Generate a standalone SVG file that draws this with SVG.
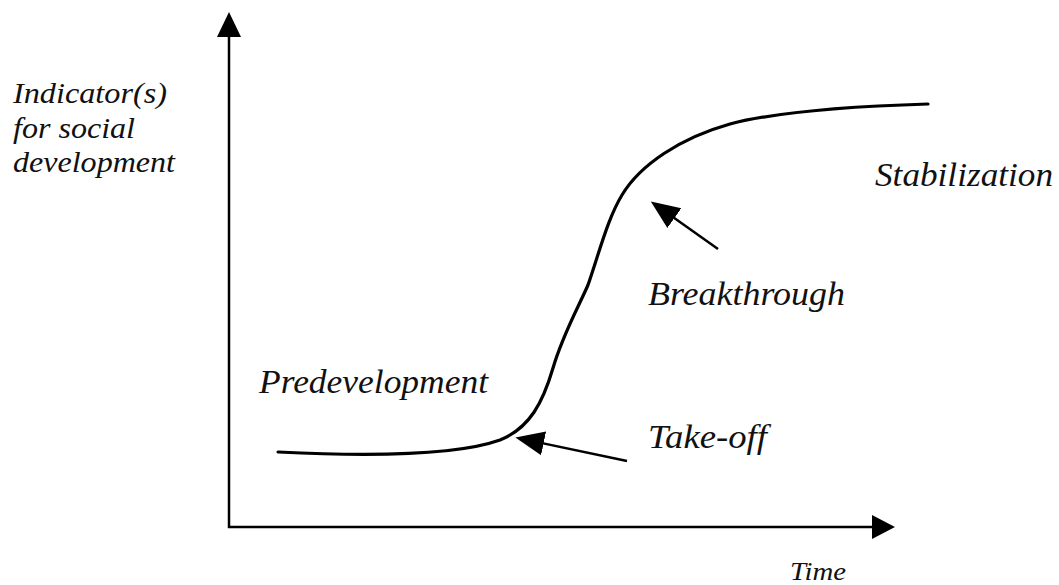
<svg xmlns="http://www.w3.org/2000/svg" width="1059" height="585" viewBox="0 0 1059 585">
  <style>
    .line { stroke: #000; stroke-width: 2.5; fill: none; }
    .curve { stroke: #000; stroke-width: 3.2; fill: none; stroke-linecap: round; }
  </style>
  <defs>
    <marker id="head" markerUnits="userSpaceOnUse" markerWidth="30" markerHeight="30" viewBox="0 -12 26 24" refX="14" refY="0" orient="auto">
      <path d="M0,-10.5 L25,0 L0,10.5 Z" fill="#000"/>
    </marker>
  </defs>
  <rect width="1059" height="585" fill="#fff"/>
  <g id="axes">
    <line class="line" x1="229" y1="528" x2="229" y2="36"/>
    <polygon points="217,37 229,12 241,37" fill="#000"/>
    <line class="line" x1="228" y1="527" x2="874" y2="527"/>
    <polygon points="872,515 895,527 872,539" fill="#000"/>
  </g>
  <g id="curve">
    <path class="curve" d="M278,452 C340,455 450,458 500,440 C530,428 543,402 553,368 C563,334 578,308 588,285 C600,250 608,218 622,195 C640,165 680,138 730,124 C780,111 860,106 928,104"/>
  </g>
  <g id="connectors">
    <line class="line" x1="718" y1="249" x2="661.2" y2="208.8" marker-end="url(#head)"/>
    <line class="line" x1="627" y1="461" x2="527.8" y2="440.1" marker-end="url(#head)"/>
  </g>
  <g font-family="Liberation Serif, Times New Roman, serif" font-style="italic" fill="#111">
    <g id="y-label" font-size="29">
      <text x="13" y="103" textLength="154" lengthAdjust="spacingAndGlyphs">Indicator(s)</text>
      <text x="13" y="138" textLength="122" lengthAdjust="spacingAndGlyphs">for social</text>
      <text x="13" y="172" textLength="162" lengthAdjust="spacingAndGlyphs">development</text>
    </g>
    <g id="predevelopment" font-size="33">
      <text x="259" y="393" textLength="229" lengthAdjust="spacingAndGlyphs">Predevelopment</text>
    </g>
    <g id="takeoff" font-size="33">
      <text x="648" y="448" textLength="119" lengthAdjust="spacingAndGlyphs">Take-off</text>
    </g>
    <g id="breakthrough" font-size="33">
      <text x="648" y="305" textLength="197" lengthAdjust="spacingAndGlyphs">Breakthrough</text>
    </g>
    <g id="stabilization" font-size="33">
      <text x="875" y="186" textLength="178" lengthAdjust="spacingAndGlyphs">Stabilization</text>
    </g>
    <g id="time" font-size="26">
      <text x="790" y="580" textLength="56" lengthAdjust="spacingAndGlyphs">Time</text>
    </g>
  </g>
</svg>
